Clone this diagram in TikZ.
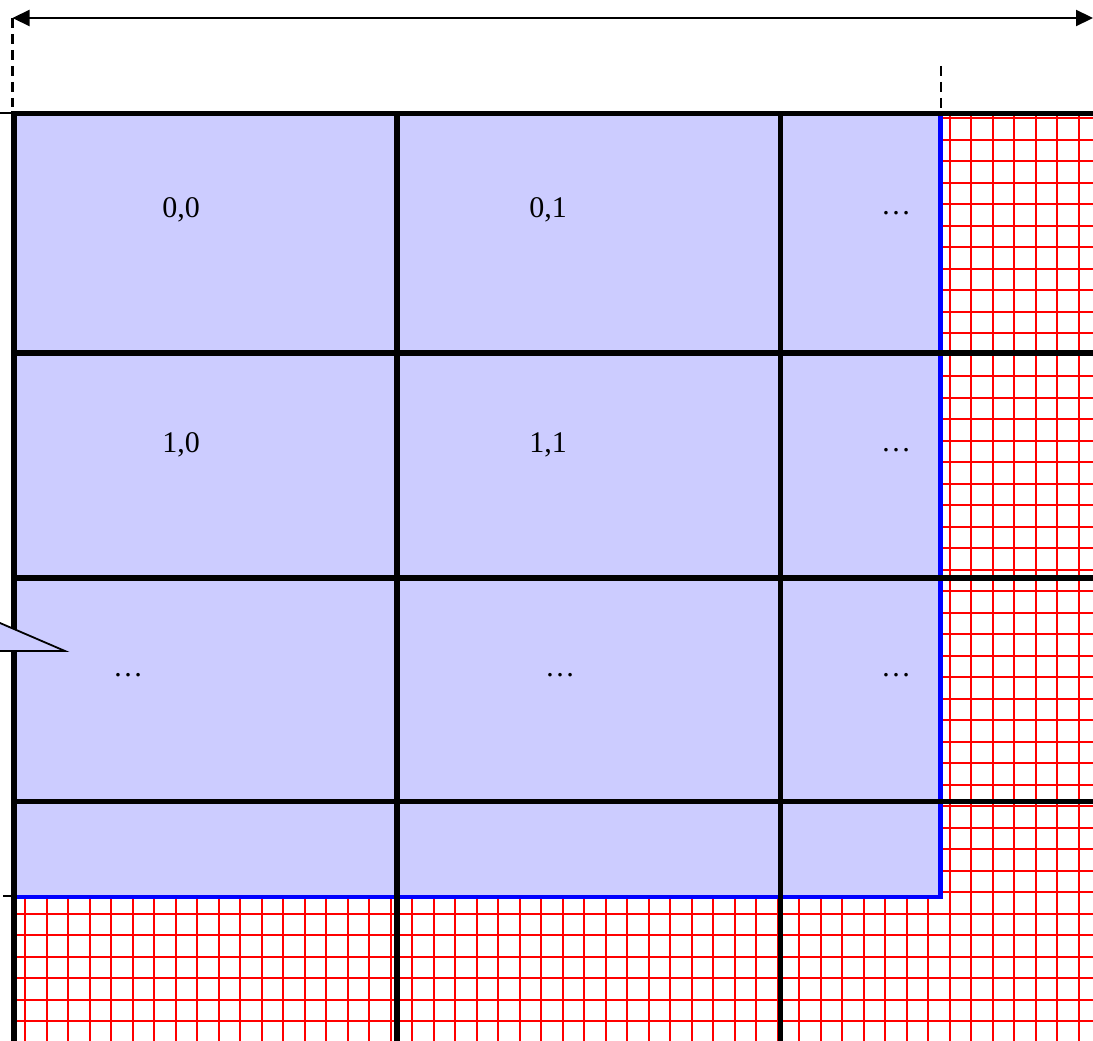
\documentclass[tikz,border=0pt]{standalone}
\usepackage{fontspec}
\setmainfont{Liberation Serif}
\usetikzlibrary{arrows.meta}
\definecolor{cellfill}{HTML}{CCCCFF}
\definecolor{edgeblue}{HTML}{0000FF}
\definecolor{gridred}{HTML}{FF0000}
\tikzset{
  thickline/.style={line width=5.5pt, black},
  blueedge/.style={line width=4.5pt, edgeblue},
  redgrid/.style={line width=2pt, gridred},
  lbl/.style={font=\fontsize{30}{36}\selectfont, inner sep=0pt, anchor=center},
  dimline/.style={line width=2.2pt, black, {Triangle[length=17pt,width=16pt]}-{Triangle[length=17pt,width=16pt]}},
  guide/.style={line width=2.5pt, black, dash pattern=on 10pt off 6pt},
  tick/.style={line width=1.3pt, black}
}
\begin{document}
\begin{tikzpicture}[x=1pt,y=-1pt]
\useasboundingbox (0,0) rectangle (1093,1041);
% red fine grid
\begin{scope}
  \clip (14,114) rectangle (1093,1041);
  \foreach \i in {0,...,51} {
    \draw[redgrid] ({3.5+21.5*\i},100) -- ({3.5+21.5*\i},1045);
  }
  \foreach \j in {0,...,45} {
    \draw[redgrid] (10,{118+21.5*\j}) -- (1097,{118+21.5*\j});
  }
\end{scope}
% blue region
\fill[cellfill] (14,114) rectangle (940.5,897);
\draw[blueedge] (940.5,114) -- (940.5,897) -- (14,897);
% thick black lines
\draw[thickline] (14,113.7) -- (1093,113.7);
\draw[thickline] (14,353) -- (1093,353);
\draw[thickline] (14,578) -- (1093,578);
\draw[thickline] (14,801.5) -- (1093,801.5);
\draw[thickline] (14,111) -- (14,1041);
\draw[thickline] (397,111) -- (397,1041);
\draw[thickline] (780.5,111) -- (780.5,1041);
% labels
\node[lbl] (c00) at (181,210) {0,0};
\node[lbl] (c01) at (548,210) {0,1};
\node[lbl] (c02) at (896,213) {\dots};
\node[lbl] (c10) at (181,445) {1,0};
\node[lbl] (c11) at (548,445) {1,1};
\node[lbl] (c12) at (896,450) {\dots};
\node[lbl] (c20) at (128,675) {\dots};
\node[lbl] (c21) at (560,675) {\dots};
\node[lbl] (c22) at (896,675) {\dots};
% callout pointer
\filldraw[fill=cellfill, draw=black, line width=1.8pt] (-10,618.7) -- (65,651) -- (-10,651);
% dimension arrow and guides
\coordinate (dl) at (12.5,18);
\coordinate (dr) at (1093,18);
\draw[dimline] (dl) -- (dr);
\coordinate (gl) at (12.5,107);
\draw[guide] (dl) -- (gl);
\coordinate (gt) at (941,66);
\coordinate (gb) at (941,112);
\draw[guide] (gt) -- (gb);
% ticks
\coordinate (t1a) at (0,113);
\coordinate (t1b) at (12,113);
\draw[tick] (t1a) -- (t1b);
\coordinate (t2a) at (3,896);
\coordinate (t2b) at (12,896);
\draw[tick] (t2a) -- (t2b);
\end{tikzpicture}
\end{document}
